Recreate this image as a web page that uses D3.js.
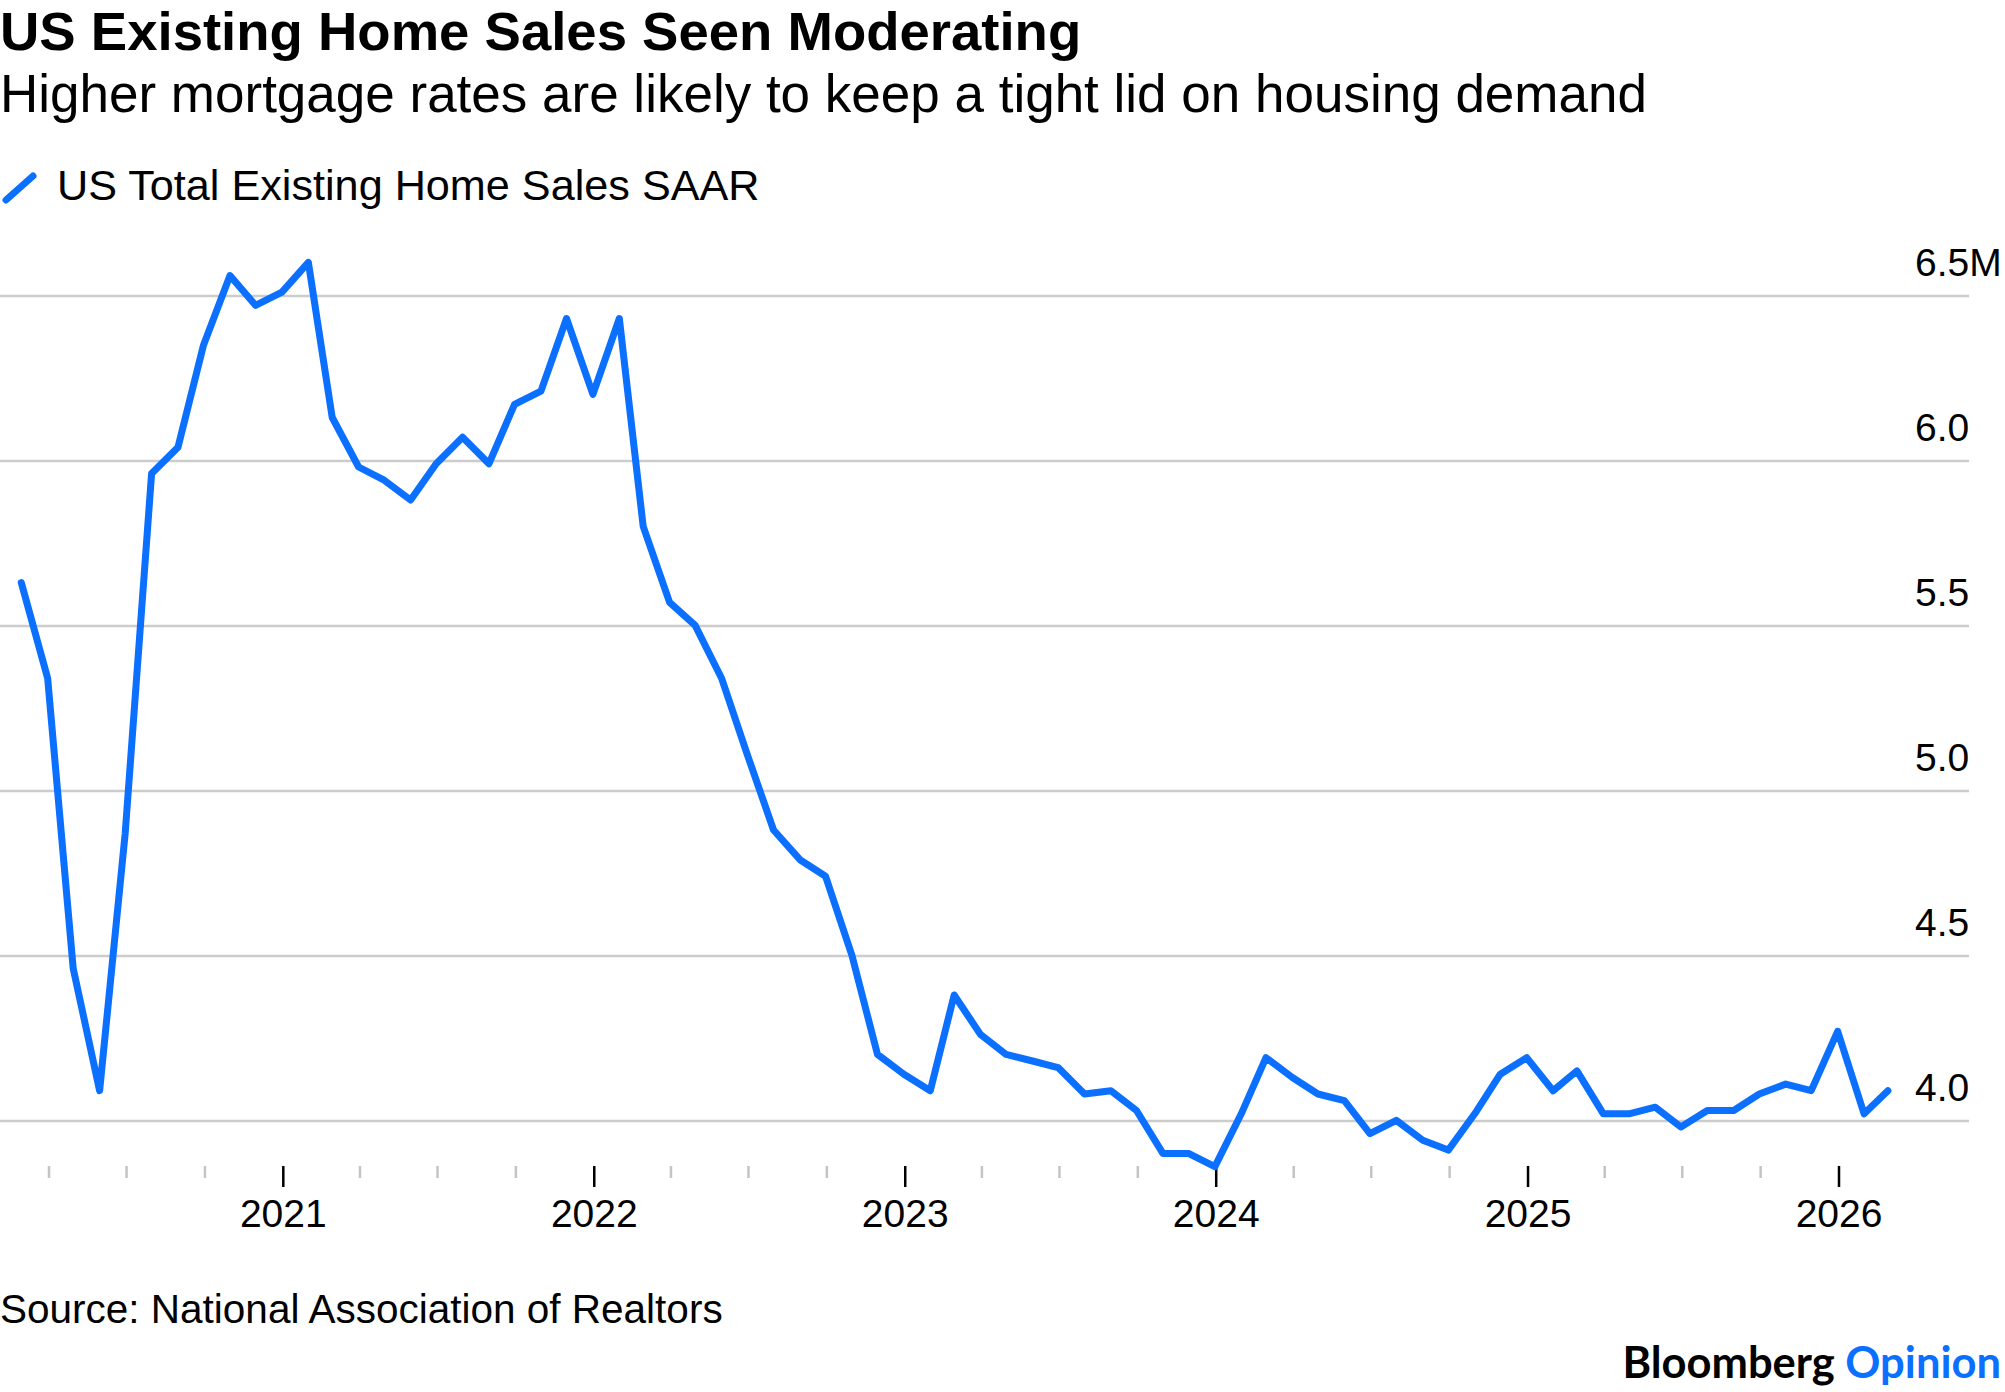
<!DOCTYPE html>
<html>
<head>
<meta charset="utf-8">
<script src="https://cdn.jsdelivr.net/npm/d3@7"></script>
<style>
  body { margin: 0; background: #fff; }
  text { font-family: "Liberation Sans", Arial, sans-serif; fill: #000; }
</style>
</head>
<body>
<div id="chart"></div>
<script>
// US total existing home sales, SAAR (millions), monthly Feb 2020 - Feb 2026
const firstMonth = [2020, 1]; // Feb 2020
const sales2020 = [5.63, 5.34, 4.46, 4.09, 4.87, 5.96, 6.04, 6.35, 6.56, 6.47, 6.51]; // Feb-Dec
const sales2021 = [6.60, 6.13, 5.98, 5.94, 5.88, 5.99, 6.07, 5.99, 6.17, 6.21, 6.43, 6.20];
const sales2022 = [6.43, 5.80, 5.57, 5.50, 5.34, 5.11, 4.88, 4.79, 4.74, 4.50, 4.20, 4.14];
const sales2023 = [4.09, 4.38, 4.26, 4.20, 4.18, 4.16, 4.08, 4.09, 4.03, 3.90, 3.90, 3.86];
const sales2024 = [4.02, 4.19, 4.13, 4.08, 4.06, 3.96, 4.00, 3.94, 3.91, 4.02, 4.14, 4.19];
const sales2025 = [4.09, 4.15, 4.02, 4.02, 4.04, 3.98, 4.03, 4.03, 4.08, 4.11, 4.09, 4.27];
const sales2026 = [4.02, 4.09]; // Jan-Feb

const yTicks = [4.0, 4.5, 5.0, 5.5, 6.0, 6.5];

const title = "US Existing Home Sales Seen Moderating";
const subtitle = "Higher mortgage rates are likely to keep a tight lid on housing demand";
const seriesName = "US Total Existing Home Sales SAAR";
const source = "Source: National Association of Realtors";

const values = [].concat(sales2020, sales2021, sales2022, sales2023, sales2024, sales2025, sales2026);
// each monthly value is plotted at the last day of its month
const data = values.map((v, i) => ({
  date: new Date(firstMonth[0], firstMonth[1] + i + 1, 0),
  value: v
}));

const W = 2005, H = 1392;
const gridRight = 1969;

const svg = d3.select('#chart')
  .append('svg')
  .attr('width', W)
  .attr('height', H);

// Scales
const x = d3.scaleTime()
  .domain([new Date(2021, 0, 1), new Date(2026, 0, 1)])
  .range([282.8, 1838.5]);

const y = d3.scaleLinear()
  .domain([4.0, 6.5])
  .range([1120.4, 295.4]);

// Header
svg.append('text')
  .attr('x', 0).attr('y', 50)
  .style('font-size', '54.5px').style('font-weight', 'bold')
  .text(title);

svg.append('text')
  .attr('x', 0).attr('y', 112)
  .style('font-size', '53px')
  .text(subtitle);

// Legend
svg.append('line')
  .attr('x1', 6).attr('y1', 200)
  .attr('x2', 33).attr('y2', 176)
  .attr('stroke', '#0b6fff')
  .attr('stroke-width', 7)
  .attr('stroke-linecap', 'round');

svg.append('text')
  .attr('x', 57).attr('y', 200)
  .style('font-size', '43.2px')
  .text(seriesName);

// Gridlines + right labels
const yAxis = svg.append('g')
  .call(d3.axisRight(y).tickValues(yTicks).tickSize(gridRight)
    .tickFormat(d => d === 6.5 ? '6.5M' : d.toFixed(1)));
yAxis.select('.domain').remove();
yAxis.selectAll('.tick line')
  .attr('stroke', '#cccccc')
  .attr('stroke-width', 2.5);
yAxis.selectAll('.tick text')
  .attr('x', 1915).attr('y', -20).attr('dy', 0)
  .attr('text-anchor', 'start')
  .style('font-family', '"Liberation Sans", Arial, sans-serif')
  .style('font-size', '39px')
  .attr('fill', '#000');

// X axis: quarterly ticks, years labelled
const extent = d3.extent(data, d => d.date);
const quarterTicks = d3.timeMonth.every(3).range(extent[0], extent[1]);
const isYear = d => d.getMonth() === 0;

const xAxis = svg.append('g')
  .attr('transform', 'translate(0,1166)')
  .call(d3.axisBottom(x).tickValues(quarterTicks)
    .tickFormat(d => isYear(d) ? d3.timeFormat('%Y')(d) : ''));
xAxis.select('.domain').remove();
xAxis.selectAll('.tick line')
  .attr('y2', d => isYear(d) ? 21 : 12)
  .attr('stroke', d => isYear(d) ? '#000' : '#c4c4c4')
  .attr('stroke-width', 2.5);
xAxis.selectAll('.tick text')
  .attr('y', 61).attr('dy', 0)
  .style('font-family', '"Liberation Sans", Arial, sans-serif')
  .style('font-size', '39px')
  .attr('fill', '#000');

// Line
const line = d3.line()
  .x(d => x(d.date))
  .y(d => y(d.value));

svg.append('path')
  .datum(data)
  .attr('fill', 'none')
  .attr('stroke', '#0b6fff')
  .attr('stroke-width', 7)
  .attr('stroke-linejoin', 'round')
  .attr('stroke-linecap', 'round')
  .attr('d', line);

// Footer
svg.append('text')
  .attr('x', 0).attr('y', 1323)
  .style('font-size', '40.5px')
  .text(source);

const brand = svg.append('text')
  .attr('x', 2001).attr('y', 1378)
  .attr('text-anchor', 'end')
  .style('font-family', 'Lato, "Open Sans", sans-serif')
  .style('font-size', '43.5px')
  .style('font-weight', 'bold');
brand.append('tspan').text('Bloomberg ');
brand.append('tspan').style('fill', '#0b6fff').text('Opinion');
</script>
</body>
</html>
